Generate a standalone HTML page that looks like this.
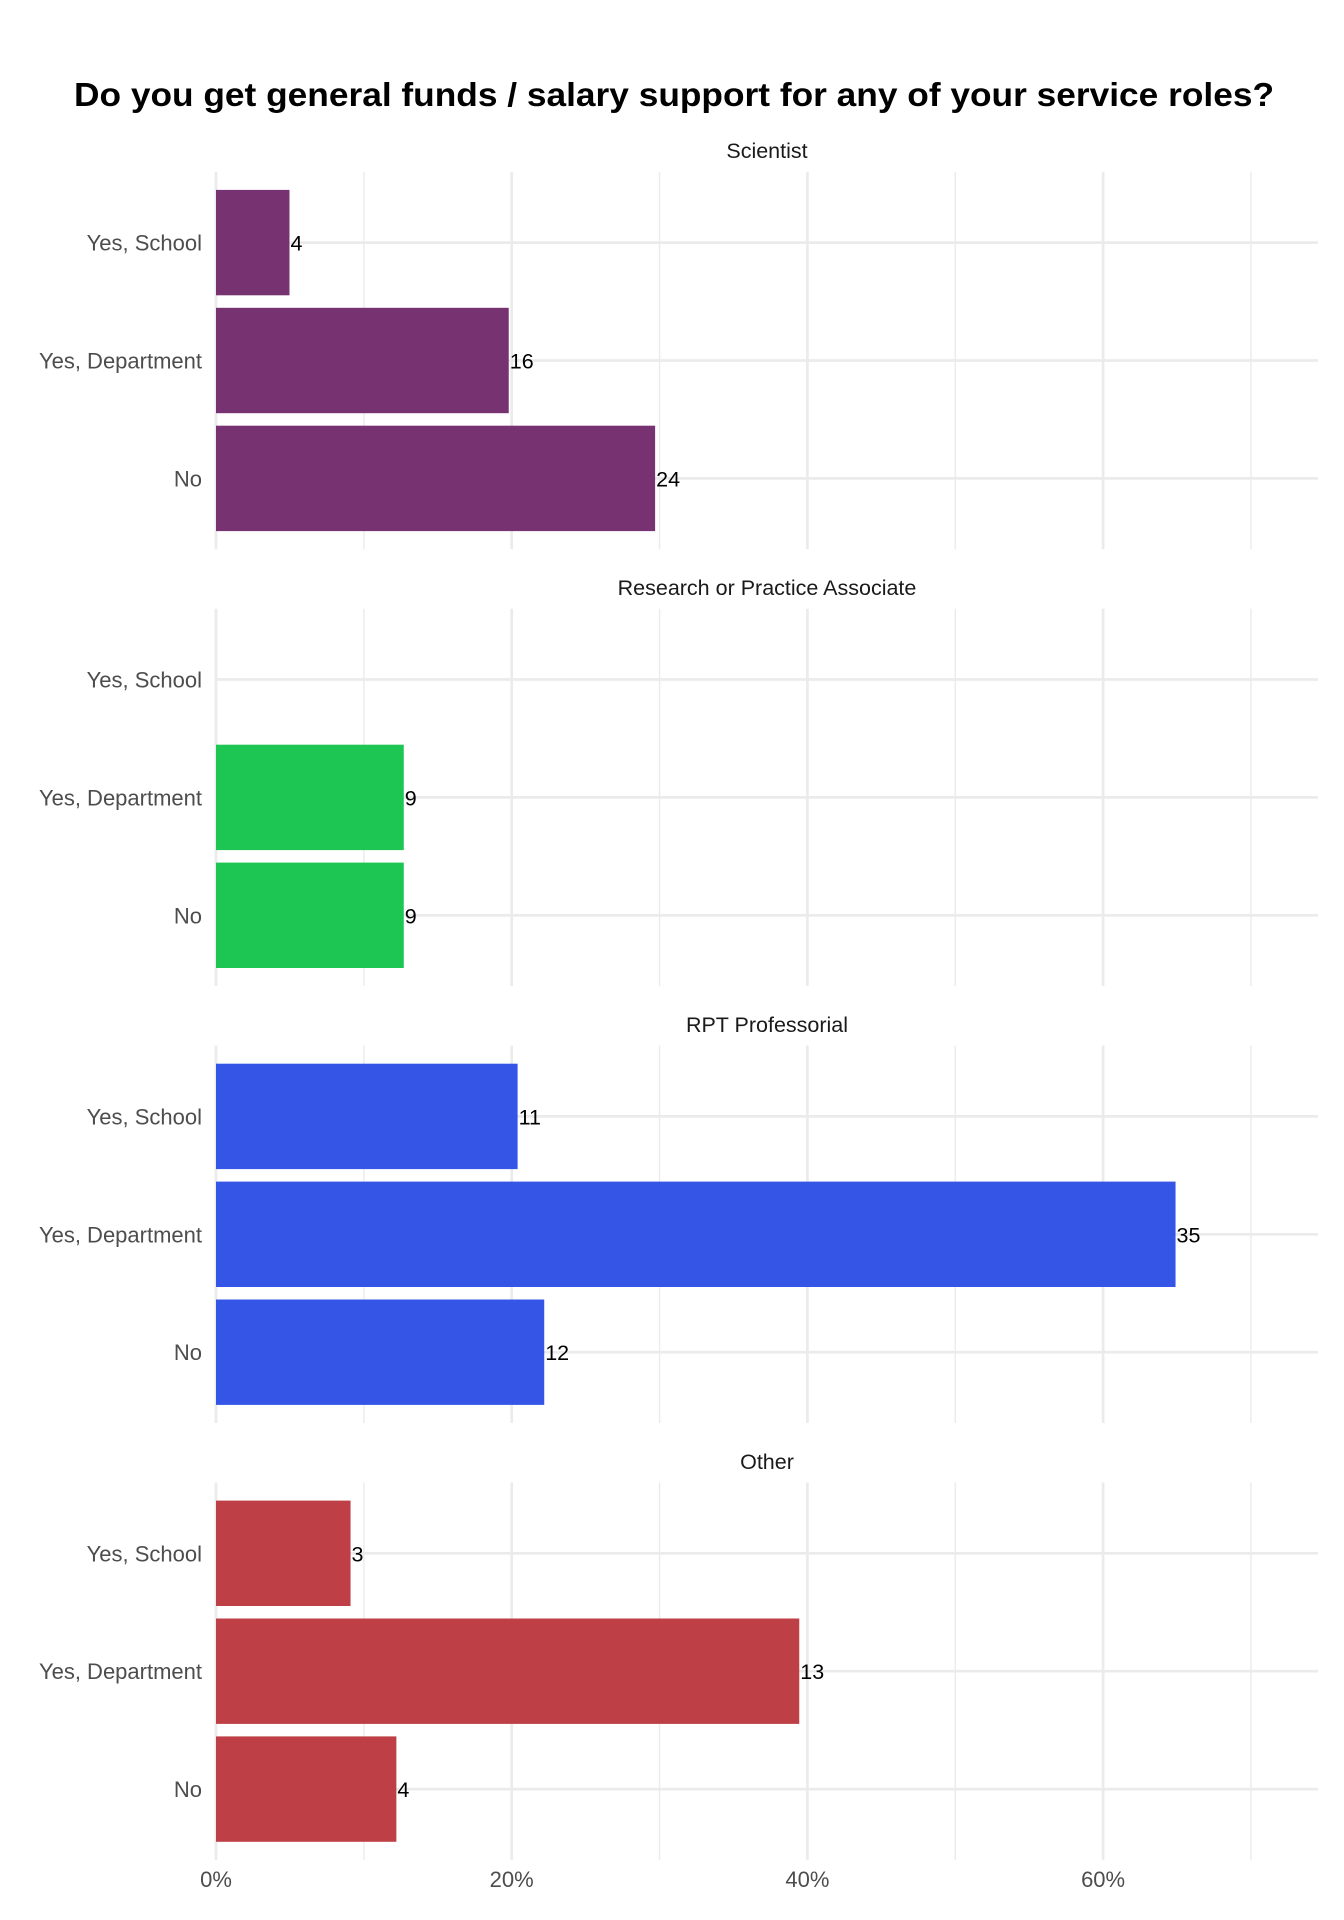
<!DOCTYPE html>
<html><head><meta charset="utf-8"><style>
html,body{margin:0;padding:0;background:#fff;}
svg{display:block;font-family:"Liberation Sans",Arial,sans-serif;}
</style></head><body>
<svg id="chart" width="1344" height="1920" viewBox="0 0 1344 1920" xmlns="http://www.w3.org/2000/svg">
<rect width="1344" height="1920" fill="#fff"/>
<text x="674" y="106" text-anchor="middle" font-size="33" font-weight="bold" fill="#000" textLength="1200" lengthAdjust="spacingAndGlyphs">Do you get general funds / salary support for any of your service roles?</text>
<g id="plot"></g>
</svg>
<script>
const facets = ["Scientist", "Research or Practice Associate", "RPT Professorial", "Other"];
const categories = ["Yes, School", "Yes, Department", "No"];
const colors = ["#773272", "#1dc652", "#3455e6", "#bf3f46"];
const percentValues = [
  [4.97, 19.8, 29.7],
  [0, 12.7, 12.7],
  [20.4, 64.9, 22.2],
  [9.1, 39.45, 12.2]
];
const countLabels = [
  ["4", "16", "24"],
  ["", "9", "9"],
  ["11", "35", "12"],
  ["3", "13", "4"]
];
const majorTicks = [0, 20, 40, 60];
const minorTicks = [10, 30, 50, 70];
const tickLabels = ["0%", "20%", "40%", "60%"];

const NS = "http://www.w3.org/2000/svg";
const plot = document.getElementById("plot");
const X0 = 216, PX_PER_PCT = 295.7 / 20, XR = 1318;
const xScale = v => X0 + v * PX_PER_PCT;
const FACET_STEP = 436.9, BAR_STEP = 117.9, FIRST_CENTER = 242.6, BAR_H = 105.4;
const yCenter = (f, j) => FIRST_CENTER + f * FACET_STEP + j * BAR_STEP;

function mk(tag, attrs, parent) {
  const e = document.createElementNS(NS, tag);
  for (const k in attrs) e.setAttribute(k, attrs[k]);
  (parent || plot).appendChild(e);
  return e;
}

facets.forEach((fname, f) => {
  const g = mk("g", {});
  
  
  const top = yCenter(f, 0) - 0.6 * BAR_STEP;
  const bottom = yCenter(f, 2) + 0.6 * BAR_STEP;
  minorTicks.forEach(t => {
    const l = mk("line", {x1: xScale(t), x2: xScale(t), y1: top, y2: bottom, stroke: "#ebebeb", "stroke-width": 1.4}, g);
    
    
  });
  majorTicks.forEach(t => {
    const l = mk("line", {x1: xScale(t), x2: xScale(t), y1: top, y2: bottom, stroke: "#ebebeb", "stroke-width": 2.7}, g);
    
    
  });
  categories.forEach((c, j) => {
    const yc = yCenter(f, j);
    const l = mk("line", {x1: X0, x2: XR, y1: yc, y2: yc, stroke: "#ebebeb", "stroke-width": 2.7}, g);
    
    
  });
  const strip = mk("text", {x: (X0 + XR) / 2, y: 150.7 + f * FACET_STEP + 7.5, "text-anchor": "middle", "font-size": 21.5, fill: "#1a1a1a"}, g);
  strip.textContent = fname;
  
  
  categories.forEach((c, j) => {
    const yc = yCenter(f, j);
    const lab = mk("text", {x: 202, y: yc + 8, "text-anchor": "end", "font-size": 22, fill: "#4d4d4d"}, g);
    lab.textContent = c;
    
    
    const v = percentValues[f][j];
    if (v > 0) {
      const r = mk("rect", {x: X0, y: yc - BAR_H / 2, width: xScale(v) - X0, height: BAR_H, fill: colors[f]}, g);
      
      
    }
    if (countLabels[f][j] !== "") {
      const t = mk("text", {x: xScale(v) + 1, y: yc + 8, "font-size": 21.5, fill: "#000"}, g);
      t.textContent = countLabels[f][j];
      
      
    }
  });
});
majorTicks.forEach((t, i) => {
  const tx = mk("text", {x: xScale(t), y: 1887, "text-anchor": "middle", "font-size": 22, fill: "#4d4d4d"});
  tx.textContent = tickLabels[i];
  
  
});
</script>
</body></html>
